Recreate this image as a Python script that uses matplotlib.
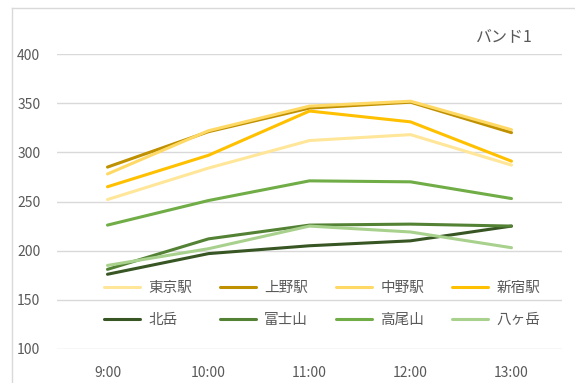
import matplotlib.pyplot as plt
from matplotlib.lines import Line2D

plt.rcParams['font.family'] = ['Noto Sans CJK JP', 'DejaVu Sans']

# data
times = ['9:00', '10:00', '11:00', '12:00', '13:00']
series_names = ['東京駅', '上野駅', '中野駅', '新宿駅', '北岳', '富士山', '高尾山', '八ヶ岳']
tokyo = [252, 284, 312, 318, 287]
ueno = [285, 321, 345, 351, 320]
nakano = [278, 322, 347, 352, 323]
shinjuku = [265, 297, 342, 331, 291]
kitadake = [176, 197, 205, 210, 225]
fujisan = [181, 212, 226, 227, 225]
takaosan = [226, 251, 271, 270, 253]
yatsugatake = [185, 202, 225, 219, 203]
colors = ['#FFE699', '#BF9000', '#FFD966', '#FFC000',
          '#375623', '#548235', '#70AD47', '#A9D18E']

values = [tokyo, ueno, nakano, shinjuku, kitadake, fujisan, takaosan, yatsugatake]

fig = plt.figure(figsize=(5.75, 3.83), dpi=100)
ax = fig.add_axes([57 / 575, 1 - 349 / 383, 505 / 575, 295 / 383])

x = range(len(times))
lines = []
for name, vals, c in zip(series_names, values, colors):
    ln, = ax.plot(x, vals, color=c, lw=2.2, label=name, solid_capstyle='round')
    lines.append(ln)

ax.set_xlim(-0.5, len(times) - 0.5)
ax.set_ylim(100, 400)
ax.set_yticks(range(100, 401, 50))
ax.set_xticks(list(x))
ax.set_xticklabels(times)
ax.grid(axis='y', color='#D9D9D9', lw=1)
ax.set_axisbelow(True)
for s in ax.spines.values():
    s.set_visible(False)
ax.tick_params(length=0, labelsize=10, labelcolor='#595959')
ax.tick_params(axis='y', pad=12)
ax.tick_params(axis='x', pad=12)

# legend fills by column, so reorder to get row-wise layout
order = [0, 4, 1, 5, 2, 6, 3, 7]
ax.legend([lines[i] for i in order], [series_names[i] for i in order],
          ncol=4, loc='center', bbox_to_anchor=(322 / 575, 1 - 304 / 383),
          bbox_transform=fig.transFigure, frameon=False, fontsize=10.5,
          handlelength=2.5, handletextpad=0.55, columnspacing=1.9,
          labelspacing=1.2, labelcolor='#595959')

fig.text(476 / 575, 1 - 37 / 383, 'バンド1', fontsize=11.5, color='#595959',
         va='center', ha='left')

# chart border (left and top edges visible)
fig.add_artist(Line2D([12 / 575, 12 / 575], [0, 1 - 8 / 383], color='#D9D9D9', lw=1))
fig.add_artist(Line2D([12 / 575, 1], [1 - 8 / 383, 1 - 8 / 383], color='#D9D9D9', lw=1))

fig.savefig('out.png', dpi=100)
